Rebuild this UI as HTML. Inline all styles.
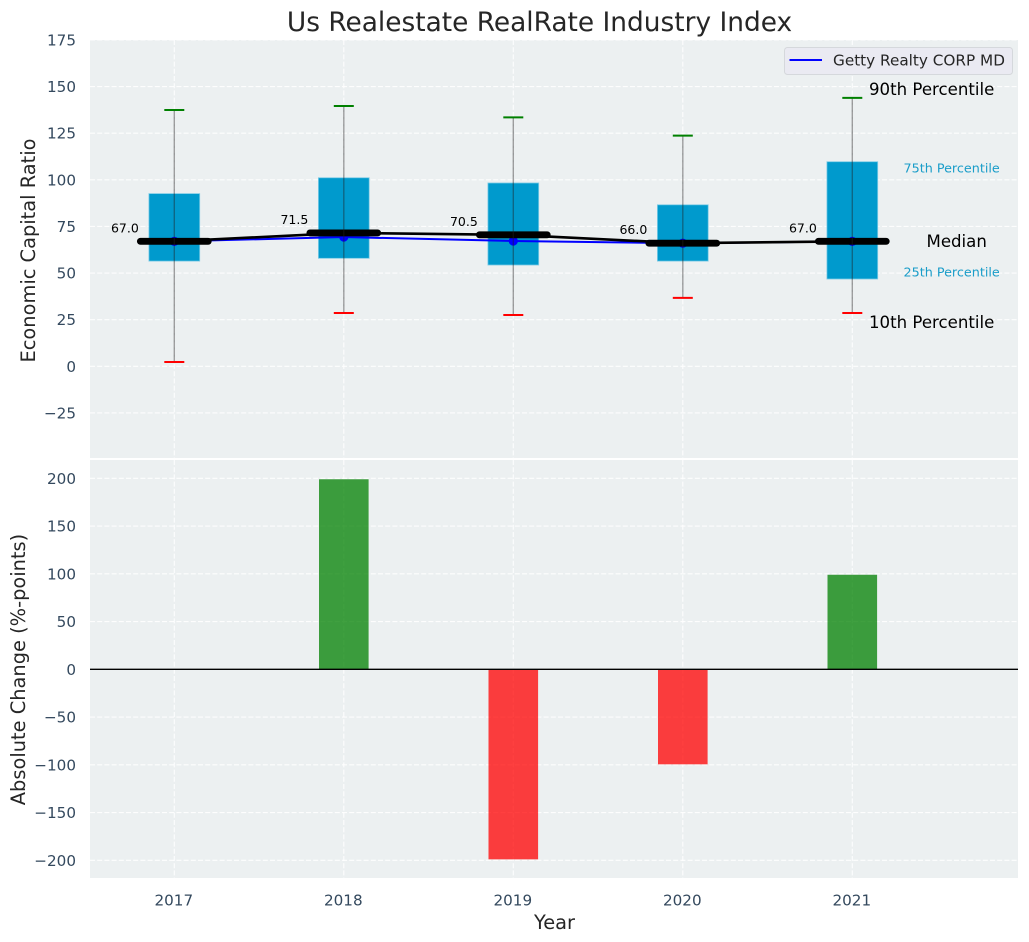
<!DOCTYPE html>
<html lang="en">
<head>
<meta charset="utf-8">
<title>Us Realestate RealRate Industry Index</title>
<style>
html,body{margin:0;padding:0;background:#fff;width:1029px;height:942px;overflow:hidden}
svg{display:block;font-family:"DejaVu Sans","Liberation Sans",sans-serif}
</style>
</head>
<body>
<svg id="chart" xmlns="http://www.w3.org/2000/svg" width="1029" height="942" viewBox="0 0 1029 942">
  <rect x="90" y="40" width="928" height="418" fill="#ecf0f1"/>
  <rect x="90" y="460" width="928" height="418" fill="#ecf0f1"/>
  <g id="grid"></g>
  <g id="ticks"></g>
  <g id="bars"></g>
  <g id="boxes"></g>
  <g id="series"></g>
  <line x1="90" x2="1018" y1="669.3" y2="669.3" stroke="#000" stroke-width="1.3"/>
  <text x="539.5" y="31" text-anchor="middle" font-size="26.4px" fill="#262626">Us Realestate RealRate Industry Index</text>
  <text transform="translate(35,250.5) rotate(-90)" text-anchor="middle" font-size="19.4px" fill="#262626">Economic Capital Ratio</text>
  <text transform="translate(25,669.5) rotate(-90)" text-anchor="middle" font-size="19.4px" fill="#262626">Absolute Change (%-points)</text>
  <text x="554.5" y="929" text-anchor="middle" font-size="19.4px" fill="#262626">Year</text>
  <g>
    <rect x="784.5" y="47.5" width="228" height="27" rx="3" fill="#eaeaf2" stroke="#d5d8dc"/>
    <line x1="789.5" x2="822" y1="60" y2="60" stroke="#0000ff" stroke-width="2"/>
    <text x="833" y="65.5" font-size="15.25px" fill="#262626">Getty Realty CORP MD</text>
  </g>
  <g>
    <text x="869" y="95" font-size="16.6px" fill="#000">90th Percentile</text>
    <text x="903.5" y="172.5" font-size="12.75px" fill="#1a9dc9">75th Percentile</text>
    <text x="926.5" y="247" font-size="16.6px" fill="#000">Median</text>
    <text x="903.5" y="276.5" font-size="12.75px" fill="#1a9dc9">25th Percentile</text>
    <text x="869" y="328" font-size="16.6px" fill="#000">10th Percentile</text>
  </g>
</svg>
<script>
const years = [2017, 2018, 2019, 2020, 2021];
const p90 = [137.4, 139.6, 133.5, 123.7, 143.9];
const p75 = [92.6, 101.1, 98.3, 86.6, 109.7];
const medians = [67, 71.5, 70.5, 66, 67];
const p25 = [56.4, 57.9, 54.3, 56.4, 46.8];
const p10 = [2.3, 28.6, 27.5, 36.7, 28.6];
const company = [67, 69.3, 67.2, 66, 67];
const change = [0, 199, -199, -99.5, 99];
const topTicks = [-25, 0, 25, 50, 75, 100, 125, 150, 175];
const bottomTicks = [-200, -150, -100, -50, 0, 50, 100, 150, 200];

const NS = 'http://www.w3.org/2000/svg';
const x = function (year) { return 174.3 + (year - 2017) * 169.5; };
const yTop = function (v) { return 366.3 - v * 1.865; };
const yBottom = function (v) { return 669.3 - v * 0.955; };
const fmt = function (v) { return v < 0 ? '\u2212' + Math.abs(v) : String(v); };

function make(parent, tag, attrs, text) {
  const el = document.createElementNS(NS, tag);
  Object.keys(attrs).forEach(function (k) { el.setAttribute(k, attrs[k]); });
  if (text !== undefined) el.textContent = text;
  parent.appendChild(el);
  return el;
}
const grid = document.getElementById('grid');
const ticks = document.getElementById('ticks');
const bars = document.getElementById('bars');
const boxes = document.getElementById('boxes');
const series = document.getElementById('series');
const gridStyle = { stroke: '#ffffff', 'stroke-width': 1.1, 'stroke-dasharray': '5,2.2', opacity: 0.9 };

topTicks.forEach(function (t) {
  const line = make(grid, 'line', Object.assign({ x1: 90, x2: 1018, y1: yTop(t), y2: yTop(t) }, gridStyle));
  
  
  const label = make(ticks, 'text', { x: 76, y: yTop(t) + 5.5, 'text-anchor': 'end', 'font-size': '15.2px', fill: '#34495e' }, fmt(t));
  
  
});
bottomTicks.forEach(function (t) {
  const line = make(grid, 'line', Object.assign({ x1: 90, x2: 1018, y1: yBottom(t), y2: yBottom(t) }, gridStyle));
  
  
  const label = make(ticks, 'text', { x: 76, y: yBottom(t) + 5.5, 'text-anchor': 'end', 'font-size': '15.2px', fill: '#34495e' }, fmt(t));
  
  
});
years.forEach(function (yr) {
  const upper = make(grid, 'line', Object.assign({ x1: x(yr), x2: x(yr), y1: 40, y2: 458 }, gridStyle));
  
  
  const lower = make(grid, 'line', Object.assign({ x1: x(yr), x2: x(yr), y1: 460, y2: 878 }, gridStyle));
  
  
  const label = make(ticks, 'text', { x: x(yr) - 0.5, y: 905.5, 'text-anchor': 'middle', 'font-size': '15.2px', fill: '#34495e' }, String(yr));
  
  
});

years.forEach(function (yr, i) {
  const v = change[i];
  const bar = make(bars, 'rect', {
    x: x(yr) - 24.8, width: 49.6,
    y: Math.min(yBottom(v), yBottom(0)),
    height: Math.abs(yBottom(v) - yBottom(0)),
    fill: v >= 0 ? 'rgba(0,128,0,0.75)' : 'rgba(255,0,0,0.75)'
  });
  
  
});

years.forEach(function (yr, i) {
  const box = make(boxes, 'rect', {
    x: x(yr) - 25.4, width: 50.8,
    y: yTop(p75[i]), height: yTop(p25[i]) - yTop(p75[i]),
    fill: '#009acd', stroke: '#7fcce6', 'stroke-width': 0.8
  });
  
  
});

const pts = function (vals) {
  return vals.map(function (v, i) { return x(years[i]) + ',' + yTop(v); }).join(' ');
};
const companyLine = make(series, 'polyline', { points: pts(company), fill: 'none', stroke: '#0000ff', 'stroke-width': 2 });


years.forEach(function (yr, i) {
  const dot = make(series, 'circle', { cx: x(yr), cy: yTop(company[i]), r: 4.6, fill: '#0000ff' });
  
  
});
const medianLine = make(series, 'polyline', { points: pts(medians), fill: 'none', stroke: '#000', 'stroke-width': 2.6 });



years.forEach(function (yr, i) {
  const cx = x(yr);
  const median = make(series, 'line', {
    x1: cx - 33.9, x2: cx + 33.9, y1: yTop(medians[i]), y2: yTop(medians[i]),
    stroke: '#000', 'stroke-width': 6.9, 'stroke-linecap': 'round'
  });
  
  
  const whisker = make(series, 'line', {
    x1: cx, x2: cx, y1: yTop(p90[i]), y2: yTop(p10[i]),
    stroke: 'rgba(30,30,30,0.42)', 'stroke-width': 1.4
  });
  
  
  const capHigh = make(series, 'line', {
    x1: cx - 10, x2: cx + 10, y1: yTop(p90[i]), y2: yTop(p90[i]),
    stroke: '#008000', 'stroke-width': 2
  });
  
  
  const capLow = make(series, 'line', {
    x1: cx - 10, x2: cx + 10, y1: yTop(p10[i]), y2: yTop(p10[i]),
    stroke: '#ff0000', 'stroke-width': 2
  });
  
  
  const value = make(series, 'text', {
    x: cx - 35.5, y: yTop(medians[i]) - 9, 'text-anchor': 'end', 'font-size': '12.5px', fill: '#000'
  }, medians[i].toFixed(1));
  
  
});
</script>
</body>
</html>
